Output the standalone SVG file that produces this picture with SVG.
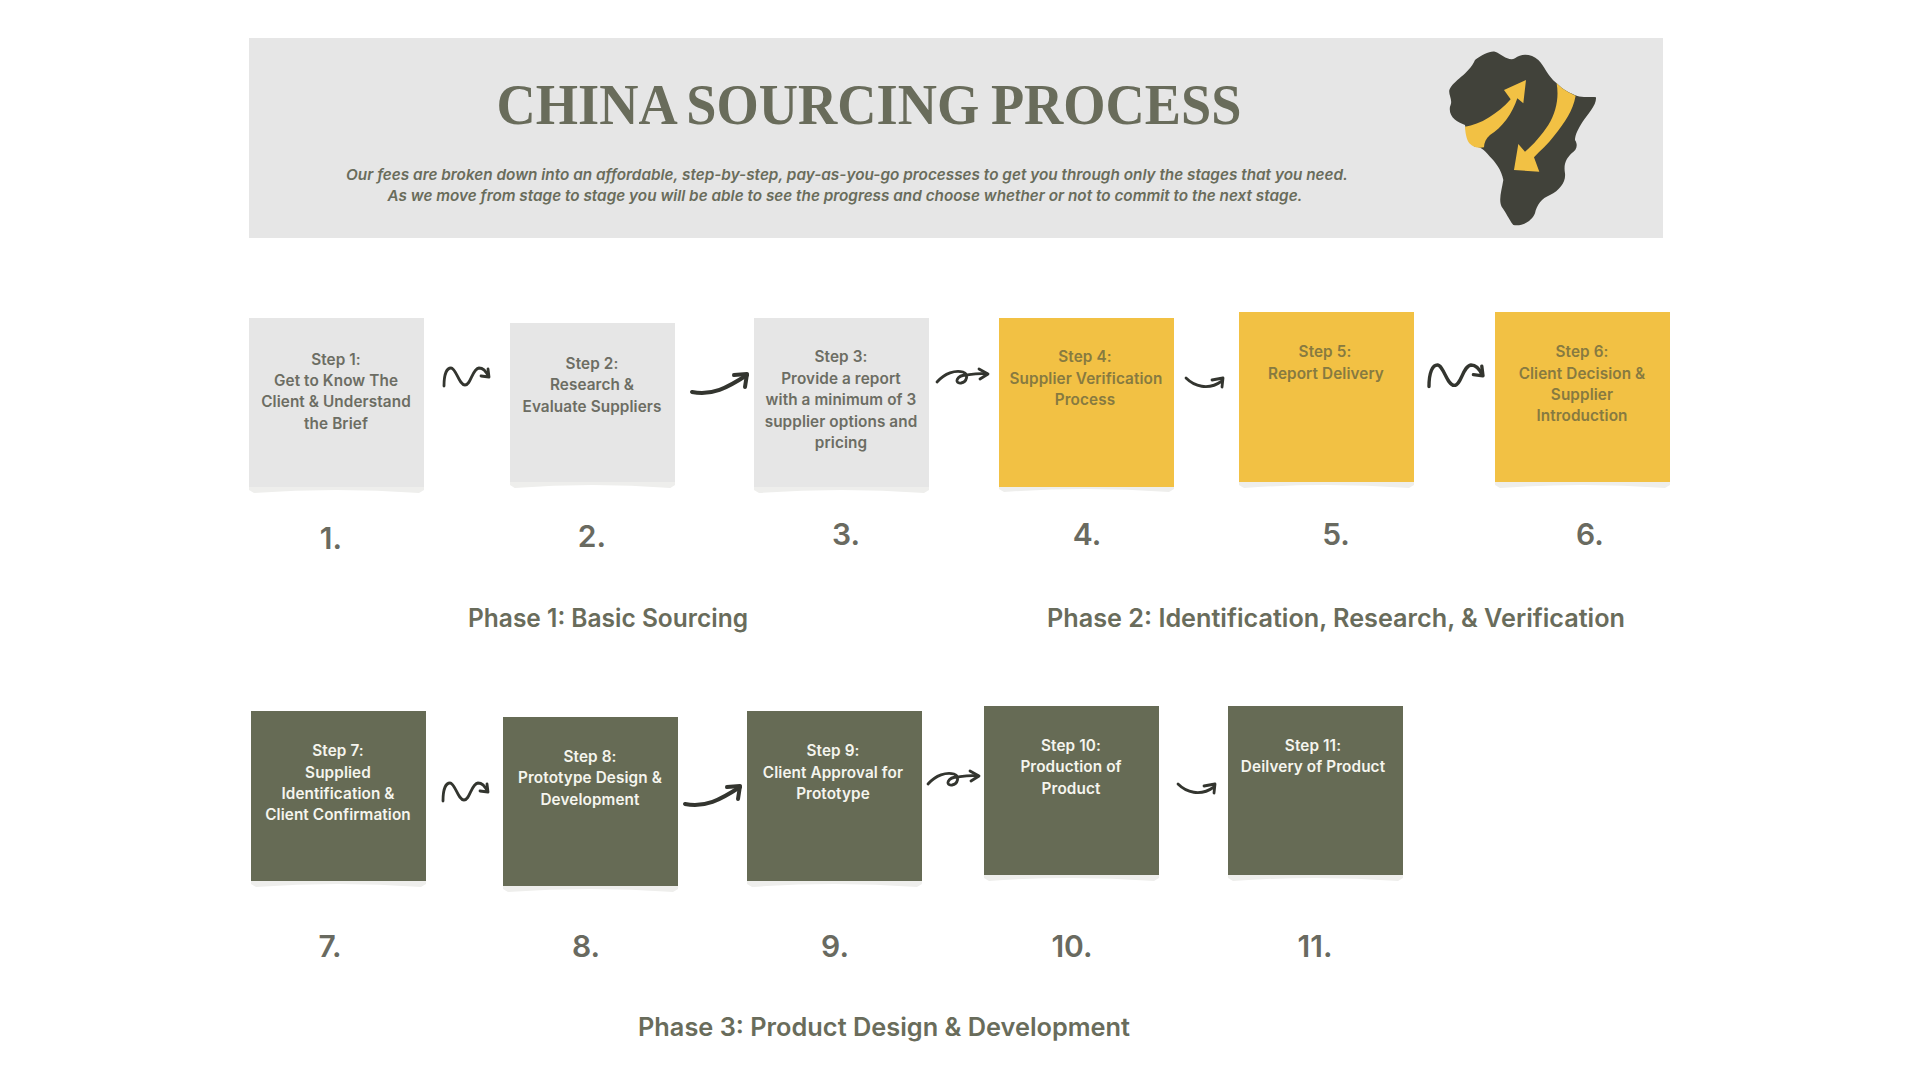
<svg xmlns="http://www.w3.org/2000/svg" xmlns:xlink="http://www.w3.org/1999/xlink" width="1920" height="1080" viewBox="0 0 1920 1080">
<style>
text{font-family:"Inter","Noto Sans","Liberation Sans",sans-serif;text-anchor:middle}
.s{font-size:15.3px;font-weight:600;letter-spacing:.1px}
.g{fill:#6c6d63}.y{fill:#877a40}.w{fill:#f5f5ee}
.n{font-size:30px;font-weight:600;fill:#696a60}
.p{font-size:25px;font-weight:600;fill:#696c5b}
.sub{font-size:15px;font-weight:600;font-style:italic;fill:#696c5b}
.bg{fill:#e6e6e6}.by{fill:#f2c144}.bo{fill:#666b55}
.sh{fill:#eeeeec}
.a{fill:none;stroke:#33352f;stroke-width:2.8;stroke-linecap:round;stroke-linejoin:round}
.a2{stroke-width:4}
</style>
<defs>
<path id="shadow" d="M0,0V3L5,6Q87,0 170,6L175,3V0Z"/>
<g id="squiggle"><path class="a" d="M0,18C0,6 3,0 7,0C12,0 15,17 21,17C27,17 28,1 35,0C39,0 42,3 44,8"/><path class="a" d="M37,8L45,9L44,1"/></g>
<g id="swoosh"><path class="a a2" d="M0,18C20,22 35,14 55,1"/><path class="a a2" d="M42,1L55,0L53,13"/></g>
<g id="loop"><path class="a" d="M0,12C8,3 18,0 26,2C32,4 30,12 24,13C17,14 19,5 30,5C37,4 42,3 50,4"/><path class="a" d="M42,-1L51,4L43,9"/></g>
<g id="smile"><path class="a" d="M0,0C8,8 22,13 36,3"/><path class="a" d="M26,2L37,0L36,9"/></g>
</defs>
<rect width="1920" height="1080" fill="#fff"/>
<g id="header">
<rect class="bg" x="249" y="38" width="1414" height="200"/>
<text x="869" y="124" font-size="58" font-weight="700" word-spacing="-2" style="font-family:'Liberation Serif',serif" fill="#696c5b" textLength="745" lengthAdjust="spacingAndGlyphs">CHINA SOURCING PROCESS</text>
<text class="sub" x="847" y="180" textLength="1002" lengthAdjust="spacingAndGlyphs">Our fees are broken down into an affordable, step-by-step, pay-as-you-go processes to get you through only the stages that you need.</text>
<text class="sub" x="845" y="201" textLength="915" lengthAdjust="spacingAndGlyphs">As we move from stage to stage you will be able to see the progress and choose whether or not to commit to the next stage.</text>
</g>
<g id="logo" transform="translate(1400,30) scale(.3333)">
<path fill="#41423a" d="M148,180C160,150 205,135 225,90C245,75 270,62 285,65C305,72 325,95 345,85C365,68 395,72 415,90C435,110 440,135 470,160C490,180 510,190 530,197C555,205 575,198 588,202C590,225 565,250 548,275C535,295 525,315 525,330C535,345 530,360 515,370C500,385 490,400 495,430C498,455 480,480 450,495C425,505 410,525 405,550C395,575 365,590 340,585C325,565 320,550 305,530C295,510 305,480 310,450C305,420 285,395 270,380C250,355 240,350 225,350C205,340 200,310 195,285C170,275 145,260 150,230C160,210 145,195 148,180Z"/>
<path fill="#f2c144" d="M195,290C240,285 295,250 332,208L312,180L378,150L370,220L352,205C338,250 305,295 270,315C258,325 252,338 252,352C235,356 220,352 208,340C198,325 196,305 195,290Z"/>
<path fill="#f2c144" d="M470,160C490,180 510,190 527,197C518,245 495,275 462,318C445,342 420,362 402,382L418,425L342,420L355,342L375,365C400,345 425,315 445,285C470,245 477,200 470,160Z"/>
</g>
<g id="connectors">
<use href="#squiggle" x="444" y="368"/>
<use href="#swoosh" x="692" y="374"/>
<use href="#loop" x="937" y="370"/>
<use href="#smile" x="1186" y="378"/>
<use href="#squiggle" transform="translate(1429,365) scale(1.2)"/>
<use href="#squiggle" x="443" y="783"/>
<use href="#swoosh" x="685" y="786"/>
<use href="#loop" x="928" y="772"/>
<use href="#smile" x="1178" y="784"/>
</g>
<g id="step1"><use class="sh" href="#shadow" x="249" y="487"/><rect class="bg" x="249" y="318" width="175" height="169"/>
<text class="s g" x="336" y="365">Step 1:</text><text class="s g" x="336" y="386">Get to Know The</text><text class="s g" x="336" y="407">Client &amp; Understand</text><text class="s g" x="336" y="429">the Brief</text></g>
<g id="step2"><use class="sh" href="#shadow" transform="translate(510,482) scale(.943,1)"/><rect class="bg" x="510" y="323" width="165" height="159"/>
<text class="s g" x="592" y="369">Step 2:</text><text class="s g" x="592" y="390">Research &amp;</text><text class="s g" x="592" y="412">Evaluate Suppliers</text></g>
<g id="step3"><use class="sh" href="#shadow" x="754" y="487"/><rect class="bg" x="754" y="318" width="175" height="169"/>
<text class="s g" x="841" y="362">Step 3:</text><text class="s g" x="841" y="384">Provide a report</text><text class="s g" x="841" y="405">with a minimum of 3</text><text class="s g" x="841" y="427">supplier options and</text><text class="s g" x="841" y="448">pricing</text></g>
<g id="step4"><use class="sh" href="#shadow" x="999" y="486"/><rect class="by" x="999" y="318" width="175" height="169"/>
<text class="s y" x="1085" y="362">Step 4:</text><text class="s y" x="1086" y="384">Supplier Verification</text><text class="s y" x="1085" y="405">Process</text></g>
<g id="step5"><use class="sh" href="#shadow" x="1239" y="482"/><rect class="by" x="1239" y="312" width="175" height="170"/>
<text class="s y" x="1325" y="357">Step 5:</text><text class="s y" x="1326" y="379">Report Delivery</text></g>
<g id="step6"><use class="sh" href="#shadow" x="1495" y="482"/><rect class="by" x="1495" y="312" width="175" height="170"/>
<text class="s y" x="1582" y="357">Step 6:</text><text class="s y" x="1582" y="379">Client Decision &amp;</text><text class="s y" x="1582" y="400">Supplier</text><text class="s y" x="1582" y="421">Introduction</text></g>
<g id="step7"><use class="sh" href="#shadow" x="251" y="881"/><rect class="bo" x="251" y="711" width="175" height="170"/>
<text class="s w" x="338" y="756">Step 7:</text><text class="s w" x="338" y="778">Supplied</text><text class="s w" x="338" y="799">Identification &amp;</text><text class="s w" x="338" y="820">Client Confirmation</text></g>
<g id="step8"><use class="sh" href="#shadow" x="503" y="886"/><rect class="bo" x="503" y="717" width="175" height="169"/>
<text class="s w" x="590" y="762">Step 8:</text><text class="s w" x="590" y="783">Prototype Design &amp;</text><text class="s w" x="590" y="805">Development</text></g>
<g id="step9"><use class="sh" href="#shadow" x="747" y="881"/><rect class="bo" x="747" y="711" width="175" height="170"/>
<text class="s w" x="833" y="756">Step 9:</text><text class="s w" x="833" y="778">Client Approval for</text><text class="s w" x="833" y="799">Prototype</text></g>
<g id="step10"><use class="sh" href="#shadow" x="984" y="875"/><rect class="bo" x="984" y="706" width="175" height="169"/>
<text class="s w" x="1071" y="751">Step 10:</text><text class="s w" x="1071" y="772">Production of</text><text class="s w" x="1071" y="794">Product</text></g>
<g id="step11"><use class="sh" href="#shadow" x="1228" y="875"/><rect class="bo" x="1228" y="706" width="175" height="169"/>
<text class="s w" x="1313" y="751">Step 11:</text><text class="s w" x="1313" y="772">Deilvery of Product</text></g>
<g id="numbers">
<text class="n" x="331" y="549">1.</text><text class="n" x="592" y="547">2.</text><text class="n" x="846" y="545">3.</text><text class="n" x="1087" y="545">4.</text><text class="n" x="1336" y="545">5.</text><text class="n" x="1590" y="545">6.</text>
<text class="n" x="330" y="957">7.</text><text class="n" x="586" y="957">8.</text><text class="n" x="835" y="957">9.</text><text class="n" x="1072" y="957">10.</text><text class="n" x="1315" y="957">11.</text>
</g>
<g id="phases">
<text class="p" x="608" y="627" textLength="280" lengthAdjust="spacingAndGlyphs">Phase 1: Basic Sourcing</text>
<text class="p" x="1336" y="627" textLength="578" lengthAdjust="spacingAndGlyphs">Phase 2: Identification, Research, &amp; Verification</text>
<text class="p" x="884" y="1036" textLength="492" lengthAdjust="spacingAndGlyphs">Phase 3: Product Design &amp; Development</text>
</g>
</svg>
